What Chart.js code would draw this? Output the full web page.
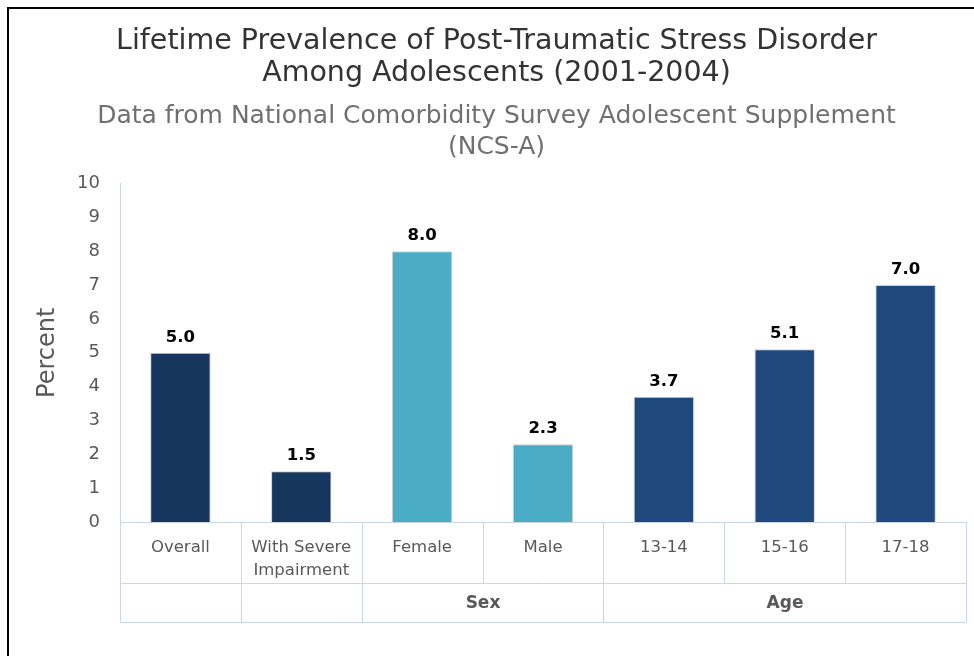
<!DOCTYPE html>
<html>
<head>
<meta charset="utf-8">
<script src="https://cdn.jsdelivr.net/npm/chart.js@4.4.1/dist/chart.umd.min.js"></script>
<style>
  html, body { margin: 0; padding: 0; background: #fff; overflow: hidden; }
  #wrap { position: relative; width: 974px; height: 656px; }
  #frame { position: absolute; left: 7px; top: 7px; width: 2000px; height: 2000px;
           border-left: 2px solid #000; border-top: 2px solid #000; pointer-events: none; }
</style>
</head>
<body>
<div id="wrap">
  <canvas id="c" width="974" height="656"></canvas>
  <div id="frame"></div>
</div>
<script>
// ---- data ----
const titleLines = ['Lifetime Prevalence of Post-Traumatic Stress Disorder', 'Among Adolescents (2001-2004)'];
const subtitleLines = ['Data from National Comorbidity Survey Adolescent Supplement', '(NCS-A)'];
const categories = ['Overall', ['With Severe', 'Impairment'], 'Female', 'Male', '13-14', '15-16', '17-18'];
const groups = ['', '', 'Sex', 'Sex', 'Age', 'Age', 'Age'];
const values = [5.0, 1.5, 8.0, 2.3, 3.7, 5.1, 7.0];
const barColors = ['#17365d', '#17365d', '#4bacc6', '#4bacc6', '#1f497d', '#1f497d', '#1f497d'];
const yAxisTitle = 'Percent';
const yMin = 0, yMax = 10, yStep = 1;

const FONT = "'DejaVu Sans', 'Open Sans', sans-serif";
const LINE = '#c9d5ea';
const LABEL_ROW = 61;

const valueLabels = {
  id: 'valueLabels',
  afterDatasetsDraw(chart) {
    const ctx = chart.ctx;
    const meta = chart.getDatasetMeta(0);
    ctx.save();
    ctx.font = 'bold 16.5px ' + FONT;
    ctx.fillStyle = '#000';
    ctx.textAlign = 'center';
    ctx.textBaseline = 'alphabetic';
    meta.data.forEach((bar, i) => {
      ctx.fillText(values[i].toFixed(1), bar.x, bar.y - 11);
    });
    ctx.restore();
  }
};

const categoryTable = {
  id: 'categoryTable',
  afterDraw(chart) {
    const ctx = chart.ctx;
    const xs = chart.scales.x;
    const n = categories.length;
    const edges = [];
    for (let i = 0; i <= n; i++) edges.push(Math.round(xs.getPixelForValue(i - 0.5)) + 0.5);
    const top = Math.round(xs.top) + 0.5;
    const mid = top + LABEL_ROW;
    const bottom = Math.round(xs.bottom) + 0.5;
    ctx.save();
    ctx.strokeStyle = LINE;
    ctx.lineWidth = 1;
    ctx.beginPath();
    [top, mid, bottom].forEach(y => { ctx.moveTo(edges[0], y); ctx.lineTo(edges[n], y); });
    edges.forEach(x => { ctx.moveTo(x, top); ctx.lineTo(x, mid); });
    for (let i = 0; i <= n; i++) {
      const prev = groups[i - 1], next = groups[i];
      const boundary = i === 0 || i === n || prev !== next || prev === '';
      if (boundary) { ctx.moveTo(edges[i], mid); ctx.lineTo(edges[i], bottom); }
    }
    ctx.stroke();
    ctx.font = 'bold 17px ' + FONT;
    ctx.fillStyle = '#595959';
    ctx.textAlign = 'center';
    ctx.textBaseline = 'middle';
    let i = 0;
    while (i < n) {
      let j = i;
      if (groups[i] !== '') { while (j + 1 < n && groups[j + 1] === groups[i]) j++; }
      if (groups[i] !== '') ctx.fillText(groups[i], (edges[i] + edges[j + 1]) / 2, (mid + bottom) / 2 + 1);
      i = j + 1;
    }
    ctx.restore();
  }
};

new Chart(document.getElementById('c'), {
  type: 'bar',
  data: {
    labels: categories,
    datasets: [{
      data: values,
      backgroundColor: barColors,
      borderColor: '#cfcfcf',
      borderWidth: 1,
      barPercentage: 0.5,
      categoryPercentage: 1.0
    }]
  },
  options: {
    responsive: false,
    animation: false,
    layout: { padding: { left: 27, right: 8, top: 0, bottom: 34 } },
    plugins: {
      legend: { display: false },
      tooltip: { enabled: false },
      title: {
        display: true,
        text: titleLines,
        color: '#333333',
        font: { family: FONT, size: 28.5, weight: 'normal', lineHeight: 32 / 28.5 },
        padding: { top: 26, bottom: 10.5 }
      },
      subtitle: {
        display: true,
        text: subtitleLines,
        color: '#707070',
        font: { family: FONT, size: 25, weight: 'normal', lineHeight: 31 / 25 },
        padding: { top: 0, bottom: 21 }
      }
    },
    scales: {
      x: {
        grid: { display: false, drawTicks: false },
        border: { display: true, color: LINE, width: 1 },
        ticks: {
          color: '#595959',
          font: { family: FONT, size: 16.5, lineHeight: 23 / 16.5 },
          padding: 14,
          maxRotation: 0,
          autoSkip: false
        },
        afterFit(scale) { scale.height = 100; }
      },
      y: {
        min: yMin, max: yMax,
        grid: { display: false, drawTicks: false },
        border: { display: true, color: LINE, width: 1 },
        ticks: {
          stepSize: yStep,
          color: '#595959',
          font: { family: FONT, size: 18 },
          padding: 20
        },
        title: {
          display: true,
          text: yAxisTitle,
          color: '#595959',
          font: { family: FONT, size: 24 },
          padding: { top: 6, bottom: 0 }
        },
        afterFit(scale) { scale.width = 93; }
      }
    }
  },
  plugins: [valueLabels, categoryTable]
});
</script>
</body>
</html>
